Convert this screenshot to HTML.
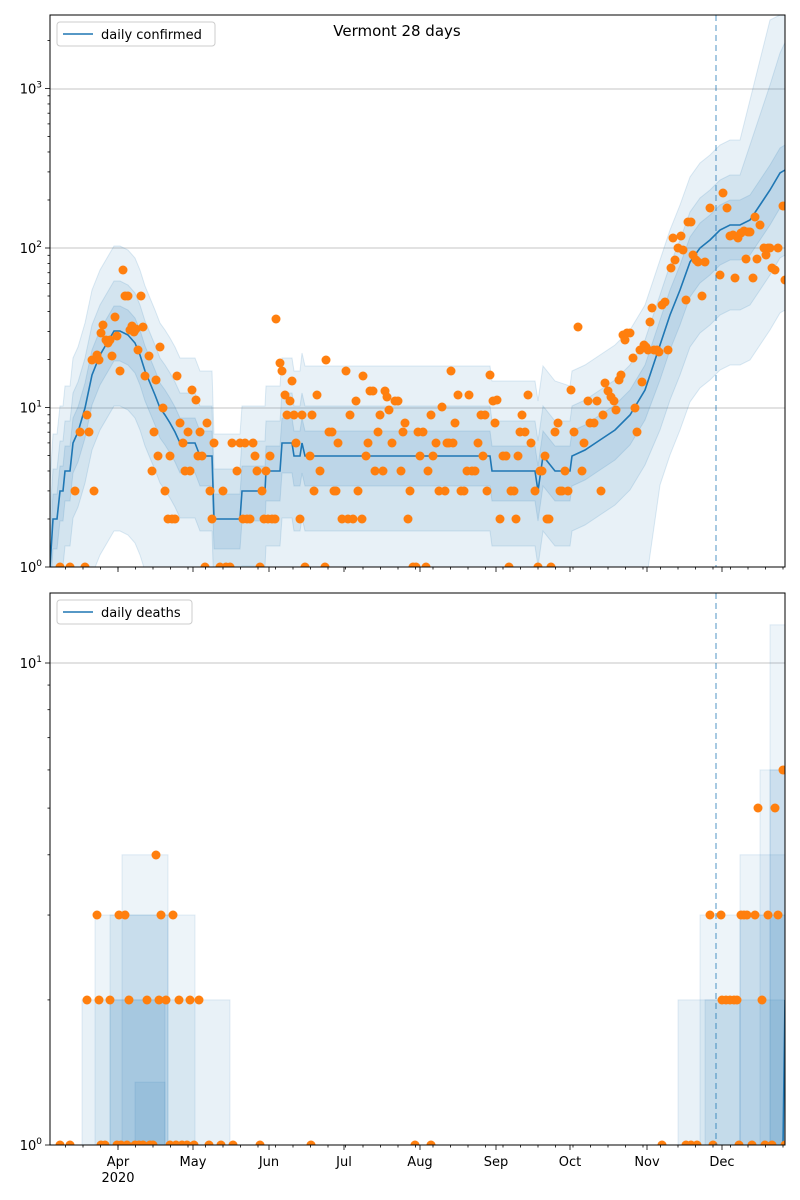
<!DOCTYPE html>
<html><head><meta charset="utf-8">
<style>
html,body{margin:0;padding:0;background:#fff;}
svg{display:block;font-family:"DejaVu Sans","Liberation Sans",sans-serif;}
</style></head>
<body>
<svg id="s" width="800" height="1200" xmlns="http://www.w3.org/2000/svg"></svg>
<script>
const S=document.getElementById('s');let h='';
const C='#1f77b4',O='#ff7f0e';
function ty(v){return 567-159.5*Math.log10(v);}
function by(v){return 1145-482*Math.log10(v);}
h+='<defs><clipPath id="ct"><rect x="50" y="15" width="735" height="552"/></clipPath><clipPath id="cb"><rect x="50" y="593" width="735" height="552"/></clipPath></defs>';
// gridlines
[89,248,408].forEach(y=>h+=`<line x1="50" x2="785" y1="${y}" y2="${y}" stroke="#b0b0b0" stroke-width="0.8"/>`);
h+=`<line x1="50" x2="785" y1="663" y2="663" stroke="#b0b0b0" stroke-width="0.8"/>`;
// top median
const med=[[50,567],[53,519],[57,519],[60,491],[63,491],[65,471],[70,471],[73,443],[78,432],[85,408],[92,375],[100,355],[107,343],[114,331],[120,331],[128,335],[135,343],[140,355],[145,371],[150,383],[155,395],[160,408],[165,415],[170,423],[175,432],[180,443],[195,443],[200,456],[212,456],[214,519],[240,519],[242,491],[265,491],[266,471],[280,471],[282,443],[292,443],[294,456],[300,456],[302,443],[305,456],[490,456],[492,471],[535,471],[538,491],[543,456],[555,471],[570,471],[572,456],[585,450],[600,440],[615,430],[630,415],[645,390],[660,345],[670,315],[680,290],[690,262],[700,248],[710,240],[720,230],[730,225],[740,225],[750,220],[760,205],[770,190],[780,173],[785,170]];
function band(up,dn,op){let a=med.map(p=>`${p[0]},${Math.max(15,p[1]-up(p[0]))}`);let b=med.slice().reverse().map(p=>`${p[0]},${Math.min(600,p[1]+dn(p[0]))}`);return `<polygon points="${a.concat(b).join(' ')}" fill="${C}" fill-opacity="${op}" stroke="${C}" stroke-opacity="0.15"/>`;}
h+='<g clip-path="url(#ct)">';
h+=band(x=>x>740?95+(x-740)*2.5:(x>300&&x<560?90:85),x=>x>650?140:200,0.1);
h+=band(x=>x>740?60+(x-740)*1.5:50,x=>x>650?85:75,0.1);
h+=band(x=>25,x=>x>650?35:30,0.12);
h+=`<polyline points="${med.map(p=>p.join(',')).join(' ')}" fill="none" stroke="${C}" stroke-width="1.6"/>`;
const tp=[[60,567],[70,567],[75,491],[80,432],[85,567],[87,415],[89,432],[92,360],[94,491],[97,355],[99,360],[101,333],[103,325],[106,340],[108,343],[110,340],[112,356],[115,317],[117,336],[120,371],[123,270],[125,296],[128,296],[130,330],[132,326],[134,332],[136,329],[138,350],[141,296],[143,327],[145,376],[149,356],[152,471],[154,432],[156,380],[158,456],[160,347],[163,408],[165,491],[168,519],[170,456],[172,519],[175,519],[177,376],[180,423],[183,443],[185,471],[188,432],[190,471],[192,390],[196,400],[198,456],[200,432],[202,456],[205,567],[207,423],[210,491],[212,519],[214,443],[220,567],[223,491],[226,567],[230,567],[232,443],[237,471],[240,443],[243,519],[245,443],[247,519],[250,519],[253,443],[255,456],[257,471],[260,567],[262,491],[264,519],[266,471],[268,519],[270,456],[272,519],[275,519],[276,319],[280,363],[282,371],[285,395],[287,415],[290,401],[292,381],[294,415],[296,443],[300,519],[302,415],[305,567],[310,456],[312,415],[314,491],[317,395],[320,471],[325,567],[326,360],[329,432],[332,432],[334,491],[336,491],[338,443],[342,519],[346,371],[348,519],[350,415],[353,519],[356,401],[358,491],[362,519],[363,376],[366,456],[368,443],[370,391],[373,391],[375,471],[378,432],[380,415],[383,471],[385,391],[387,397],[389,410],[392,443],[395,401],[398,401],[401,471],[403,432],[405,423],[408,519],[410,491],[413,567],[416,567],[418,432],[420,456],[423,432],[426,567],[428,471],[431,415],[433,456],[436,443],[439,491],[442,407],[445,491],[447,443],[449,443],[451,371],[453,443],[455,423],[458,395],[461,491],[464,491],[467,471],[469,395],[472,471],[475,471],[478,443],[481,415],[483,456],[485,415],[487,491],[490,375],[493,401],[495,423],[497,400],[500,519],[503,456],[506,456],[509,567],[511,491],[514,491],[516,519],[518,456],[520,432],[522,415],[525,432],[528,395],[531,443],[535,491],[538,567],[540,471],[542,471],[545,456],[547,519],[549,519],[551,567],[555,432],[558,423],[560,491],[562,491],[565,471],[568,491],[571,390],[574,432],[578,327],[582,471],[584,443],[588,401],[590,423],[594,423],[597,401],[601,491],[603,415],[605,383],[608,391],[611,397],[614,401],[616,410],[619,380],[621,375],[623,335],[625,340],[627,333],[630,333],[633,358],[635,408],[637,432],[640,350],[642,382],[644,345],[646,347],[648,350],[650,322],[652,308],[654,350],[657,350],[659,352],[662,305],[665,302],[668,350],[671,268],[673,238],[675,260],[678,248],[681,236],[683,250],[686,300],[688,222],[691,222],[693,255],[696,260],[698,262],[702,296],[705,262],[710,208],[720,275],[723,193],[727,208],[730,236],[733,235],[735,278],[738,238],[741,233],[744,231],[746,259],[748,232],[750,232],[753,278],[755,217],[757,259],[760,225],[764,248],[766,255],[768,248],[770,248],[772,268],[775,270],[778,248],[783,206],[785,280]];
tp.forEach(p=>h+=`<circle cx="${p[0]}" cy="${p[1]}" r="4.5" fill="${O}"/>`);
h+='</g>';
// bottom
h+='<g clip-path="url(#cb)">';
function rectb(x1,x2,v,op){h+=`<rect x="${x1}" y="${by(v)}" width="${x2-x1}" height="${1150-by(v)}" fill="${C}" fill-opacity="${op}" stroke="${C}" stroke-opacity="0.12"/>`;}
rectb(82,230,2,0.1);rectb(95,195,3,0.08);rectb(122,168,4,0.08);rectb(110,168,3,0.1);rectb(110,165,2,0.1);rectb(135,165,1.35,0.1);
rectb(678,785,2,0.1);rectb(700,785,3,0.08);rectb(740,785,4,0.08);rectb(760,785,6,0.08);rectb(770,785,12,0.08);
rectb(705,740,2,0.1);rectb(740,785,3,0.1);rectb(770,785,6,0.08);
h+=`<polyline points="50,1146 783,1146 785,1000" fill="none" stroke="${C}" stroke-width="1.6"/>`;
const bp=[[60,1145],[70,1145],[87,1000],[97,915],[99,1000],[101,1145],[105,1145],[110,1000],[117,1145],[119,915],[121,1145],[125,915],[127,1145],[129,1000],[135,1145],[139,1145],[143,1145],[147,1000],[150,1145],[153,1145],[156,855],[159,1000],[161,915],[166,1000],[170,1145],[173,915],[176,1145],[179,1000],[182,1145],[187,1145],[190,1000],[194,1145],[199,1000],[209,1145],[221,1145],[233,1145],[260,1145],[311,1145],[415,1145],[431,1145],[662,1145],[686,1145],[691,1145],[697,1145],[710,915],[713,1145],[721,915],[722,1000],[726,1000],[730,1000],[734,1000],[737,1000],[739,1145],[741,915],[744,915],[747,915],[752,1145],[755,915],[758,808],[762,1000],[765,1145],[768,915],[772,1145],[775,808],[778,915],[783,770],[785,1145]];
bp.forEach(p=>h+=`<circle cx="${p[0]}" cy="${p[1]}" r="4.5" fill="${O}"/>`);
h+='</g>';
// dashed lines
h+=`<line x1="716" x2="716" y1="15" y2="567" stroke="${C}" stroke-opacity="0.6" stroke-dasharray="6,4" stroke-width="1.3"/>`;
h+=`<line x1="716" x2="716" y1="593" y2="1145" stroke="${C}" stroke-opacity="0.6" stroke-dasharray="6,4" stroke-width="1.3"/>`;
// frames
h+='<rect x="50" y="15" width="735" height="552" fill="none" stroke="#000" stroke-width="1"/>';
h+='<rect x="50" y="593" width="735" height="552" fill="none" stroke="#000" stroke-width="1"/>';
// y ticks
function yt(f,ymin,ymax,labels){for(let d=0;d<4;d++)for(let m=1;m<10;m++){const y=f(m*Math.pow(10,d));if(y<ymin-0.5||y>ymax+0.5)continue;const L=m==1?5:2.5;h+=`<line x1="${50-L}" x2="50" y1="${y}" y2="${y}" stroke="#000" stroke-width="0.8"/>`;if(m==1&&labels)h+=`<text x="${42}" y="${y+5}" font-size="13" text-anchor="end">10<tspan font-size="9" dy="-6">${d}</tspan></text>`;}}
yt(ty,15,567,1);yt(by,593,1145,1);
// x ticks
const mon=[['Apr',118],['May',193],['Jun',269],['Jul',344],['Aug',420],['Sep',496],['Oct',570],['Nov',647],['Dec',722]];
for(let x=118-17.5*3;x<=786;x+=17.5){if(x<49)continue;[567,1145].forEach(y=>h+=`<line x1="${x}" x2="${x}" y1="${y}" y2="${y+2.5}" stroke="#000" stroke-width="0.8"/>`);}
mon.forEach(([t,x])=>{[567,1145].forEach(y=>h+=`<line x1="${x}" x2="${x}" y1="${y}" y2="${y+5}" stroke="#000" stroke-width="0.8"/>`);h+=`<text x="${x}" y="1166" font-size="13" text-anchor="middle">${t}</text>`;});
h+=`<text x="118" y="1182" font-size="13" text-anchor="middle">2020</text>`;
// title & legends
h+=`<text x="397" y="36" font-size="15" text-anchor="middle">Vermont 28 days</text>`;
h+=`<rect x="57" y="22" width="158" height="24" rx="3" fill="#fff" fill-opacity="0.8" stroke="#ccc"/><line x1="63" x2="93" y1="34" y2="34" stroke="${C}" stroke-width="1.6"/><text x="101" y="39" font-size="13">daily confirmed</text>`;
h+=`<rect x="57" y="600" width="135" height="24" rx="3" fill="#fff" fill-opacity="0.8" stroke="#ccc"/><line x1="63" x2="93" y1="612" y2="612" stroke="${C}" stroke-width="1.6"/><text x="101" y="617" font-size="13">daily deaths</text>`;
S.innerHTML=h;
</script>
</body></html>
